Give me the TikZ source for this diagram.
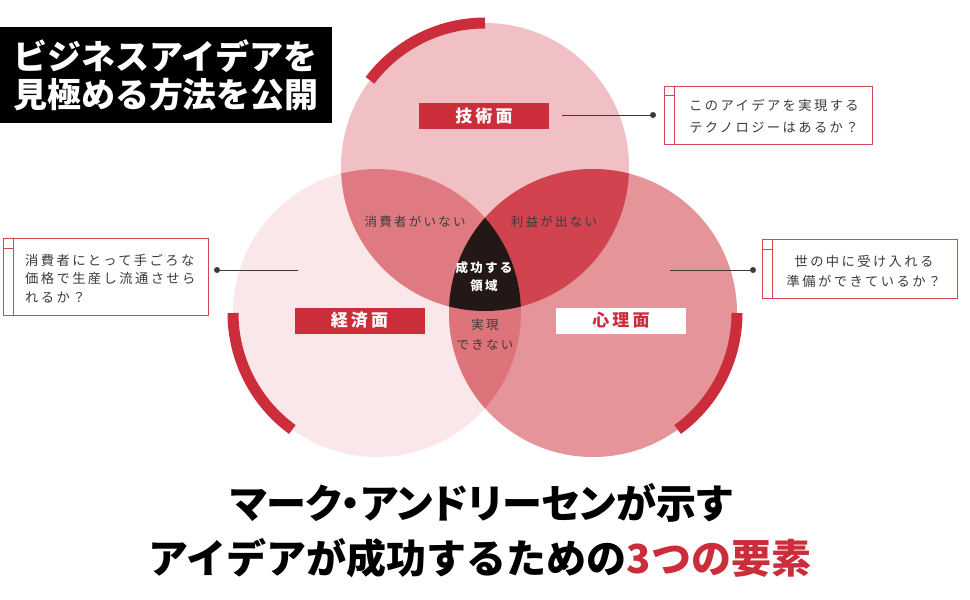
\documentclass[tikz,border=0pt]{standalone}
\usepackage{fontspec}
\setmainfont{Noto Sans CJK JP}
\newfontfamily\jpsp[LetterSpace=18]{Noto Sans CJK JP}
\newfontfamily\jpblack{Noto Sans CJK JP Black}
\newfontfamily\jpblackpalt[RawFeature=+palt]{Noto Sans CJK JP Black}
\usetikzlibrary{calc}
\definecolor{cT}{HTML}{F0C0C4}
\definecolor{cL}{HTML}{F9E7E9}
\definecolor{cR}{HTML}{E5949A}
\definecolor{cTL}{HTML}{E07A82}
\definecolor{cTR}{HTML}{D1434F}
\definecolor{cLR}{HTML}{DD737B}
\definecolor{cTLR}{HTML}{231815}
\definecolor{accent}{HTML}{CC2D3A}
\definecolor{ink}{HTML}{3E3A39}
\definecolor{boxline}{HTML}{D34652}
\tikzset{
  arcband/.style={draw=accent, line width=11},
  lab/.style={minimum width=130, minimum height=26, inner sep=0, font=\jpsp\bfseries\fontsize{17}{17}\selectfont},
  qbox/.style={draw=boxline, line width=1, fill=white, inner sep=0},
  qtext/.style={text=ink, inner sep=0},
  conn/.style={draw=ink, line width=1},
  dotnode/.style={circle, fill=ink, inner sep=0, minimum size=6},
  region/.style={text=ink, inner sep=0, align=center, font=\jpsp\fontsize{12.5}{20}\selectfont},
}
\begin{document}
\begin{tikzpicture}[x=1pt,y=1pt]
\fill[white] (0,0) rectangle (970,-600);
\useasboundingbox (0,0) rectangle (970,-600);
\coordinate (T) at (485,-167);
\coordinate (L) at (377,-313);
\coordinate (R) at (593,-313);
% circles
\fill[cT] (T) circle[radius=144];
\fill[cL] (L) circle[radius=144];
\fill[cR] (R) circle[radius=144];
\begin{scope}\clip (T) circle[radius=144]; \fill[cTL] (L) circle[radius=144];\end{scope}
\begin{scope}\clip (T) circle[radius=144]; \fill[cTR] (R) circle[radius=144];\end{scope}
\begin{scope}\clip (L) circle[radius=144]; \fill[cLR] (R) circle[radius=144];\end{scope}
\begin{scope}\clip (T) circle[radius=144]; \clip (L) circle[radius=144]; \fill[cTLR] (R) circle[radius=144];\end{scope}
% arcs
\draw[arcband] ($(T)+(90:144)$) arc[start angle=90, end angle=143, radius=144];
\draw[arcband] ($(L)+(180:144)$) arc[start angle=180, end angle=234, radius=144];
\draw[arcband] ($(R)+(-54:144)$) arc[start angle=-54, end angle=0, radius=144];
% title
\node[fill=black, text=white, minimum width=332, minimum height=96, inner sep=0, text width=306, align=left,
  font=\bfseries\fontsize{34}{38}\selectfont] (title) at (166,-75) {ビジネスアイデアを\\見極める方法を公開};
% labels
\node[lab, fill=accent, text=white] (tech) at (484,-116) {技術面};
\node[lab, fill=accent, text=white] (econ) at (359.5,-320.5) {経済面};
\node[lab, fill=white, text=accent] (psy) at (621,-320.5) {心理面};
% region texts
\node[region] (r1) at (415,-222) {消費者がいない};
\node[region] (r2) at (554,-222) {利益が出ない};
\node[region, text=white, font=\jpsp\bfseries\fontsize{12.5}{18}\selectfont] (r3) at (484,-277) {成功する\\領域};
\node[region] (r4) at (485,-335) {実現\\できない};
% question boxes
\node[qbox, minimum width=208, minimum height=58] (q1) at (768,-115) {};
\draw[boxline, line width=1] ([xshift=11]q1.north west) -- ([xshift=11]q1.south west);
\draw[boxline, line width=1] ([yshift=-10]q1.north west) -- ([xshift=11,yshift=-10]q1.north west);
\node[qtext, align=center, font=\jpsp\fontsize{13.3}{22}\selectfont] (t1) at (774,-116) {このアイデアを実現する\\テクノロジーはあるか？};

\node[qbox, minimum width=205, minimum height=77] (q2) at (105.5,-276.5) {};
\draw[boxline, line width=1] ([xshift=11]q2.north west) -- ([xshift=11]q2.south west);
\draw[boxline, line width=1] ([yshift=-11]q2.north west) -- ([xshift=11,yshift=-11]q2.north west);
\node[qtext, anchor=west, align=left, font=\jpsp\fontsize{13.3}{18.5}\selectfont] (t2) at (25,-278.5) {消費者にとって手ごろな\\価格で生産し流通させら\\れるか？};

\node[qbox, minimum width=195, minimum height=59] (q3) at (859.5,-268.5) {};
\draw[boxline, line width=1] ([xshift=11]q3.north west) -- ([xshift=11]q3.south west);
\draw[boxline, line width=1] ([yshift=-11]q3.north west) -- ([xshift=11,yshift=-11]q3.north west);
\node[qtext, align=center, font=\jpsp\fontsize{13.3}{20}\selectfont] (t3) at (864,-271) {世の中に受け入れる\\準備ができているか？};
% connectors
\node[dotnode] (d1) at (653,-115) {};
\coordinate (c1) at (562,-115);
\draw[conn] (c1) -- (d1);
\node[dotnode] (d2) at (217,-270) {};
\coordinate (c2) at (298,-270);
\draw[conn] (c2) -- (d2);
\node[dotnode] (d3) at (753,-270) {};
\coordinate (c3) at (670,-270);
\draw[conn] (c3) -- (d3);
% headline
\node[inner sep=0, font=\jpblackpalt\fontsize{40}{40}\selectfont] (h1) at (481,-503) {マーク・アンドリーセンが示す};
\node[inner sep=0, font=\jpblack\fontsize{40}{40}\selectfont] (h2) at (480,-558) {アイデアが成功するための\textcolor{accent}{3つの要素}};
\end{tikzpicture}
\end{document}
